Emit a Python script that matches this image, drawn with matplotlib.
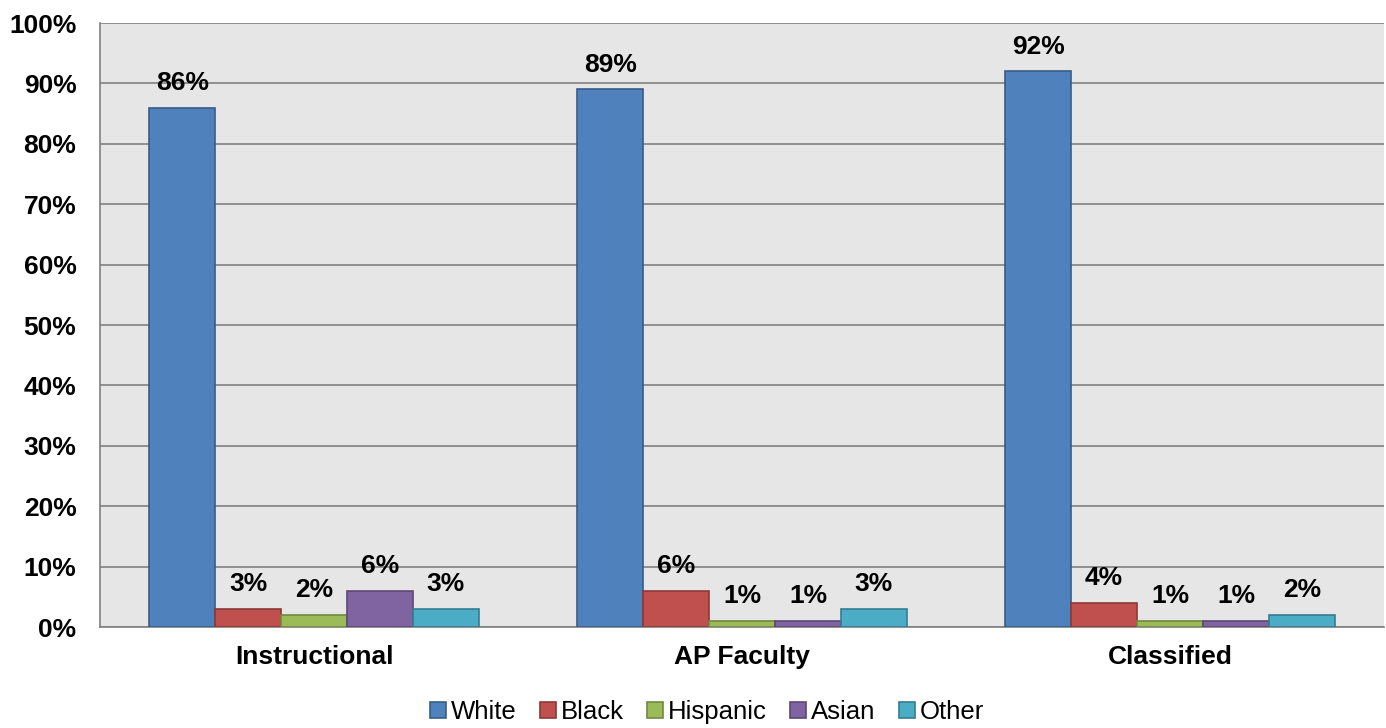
import numpy as np
import matplotlib.pyplot as plt

plt.rcParams['font.family'] = ['Liberation Sans', 'DejaVu Sans']

groups = ['Instructional', 'AP Faculty', 'Classified']
series = ['White', 'Black', 'Hispanic', 'Asian', 'Other']
white = [86, 89, 92]
black = [3, 6, 4]
hispanic = [2, 1, 1]
asian = [6, 1, 1]
other = [3, 3, 2]
values = [white, black, hispanic, asian, other]

colors = ['#4F81BD', '#C0504D', '#9BBB59', '#8064A2', '#4BACC6']
edges = ['#385D8A', '#8C3836', '#71893F', '#5C4776', '#357D91']

fig = plt.figure(figsize=(13.86, 7.28), dpi=100)
ax = fig.add_axes([0.0722, 0.1387, 0.9264, 0.8297])
ax.set_facecolor('#E6E6E6')

x = np.arange(len(groups))
w = 0.154
for i, (name, vals) in enumerate(zip(series, values)):
    pos = x + (i - 2) * w
    bars = ax.bar(pos, vals, w, color=colors[i], edgecolor=edges[i],
                  linewidth=1.2, label=name, zorder=3)
    for b, v in zip(bars, vals):
        ax.annotate(f'{v}%', (b.get_x() + b.get_width() / 2, v),
                    xytext=(0, 9), textcoords='offset points',
                    ha='center', va='bottom', fontsize=19, fontweight='bold')

ax.set_xlim(-0.5, 2.5)
ax.set_ylim(0, 100)
ax.set_yticks(range(0, 101, 10))
ax.set_yticklabels([f'{t}%' for t in range(0, 101, 10)], fontsize=19, fontweight='bold')
ax.set_xticks(x)
ax.set_xticklabels(groups, fontsize=19, fontweight='bold')
ax.tick_params(axis='y', length=0, pad=17)
ax.tick_params(axis='x', length=0, pad=13)
ax.yaxis.grid(True, color='#808080', linewidth=1.2, zorder=0)
for s in ['top', 'right']:
    ax.spines[s].set_visible(False)
for s in ['left', 'bottom']:
    ax.spines[s].set_color('#808080')
    ax.spines[s].set_linewidth(1.2)

fig.legend(*ax.get_legend_handles_labels(), loc='center', bbox_to_anchor=(0.51, 0.022),
           ncol=5, frameon=False, fontsize=18.5, handlelength=0.62, handleheight=0.62,
           handletextpad=0.2, columnspacing=0.9, borderpad=0)

fig.savefig('out.png', dpi=100)
